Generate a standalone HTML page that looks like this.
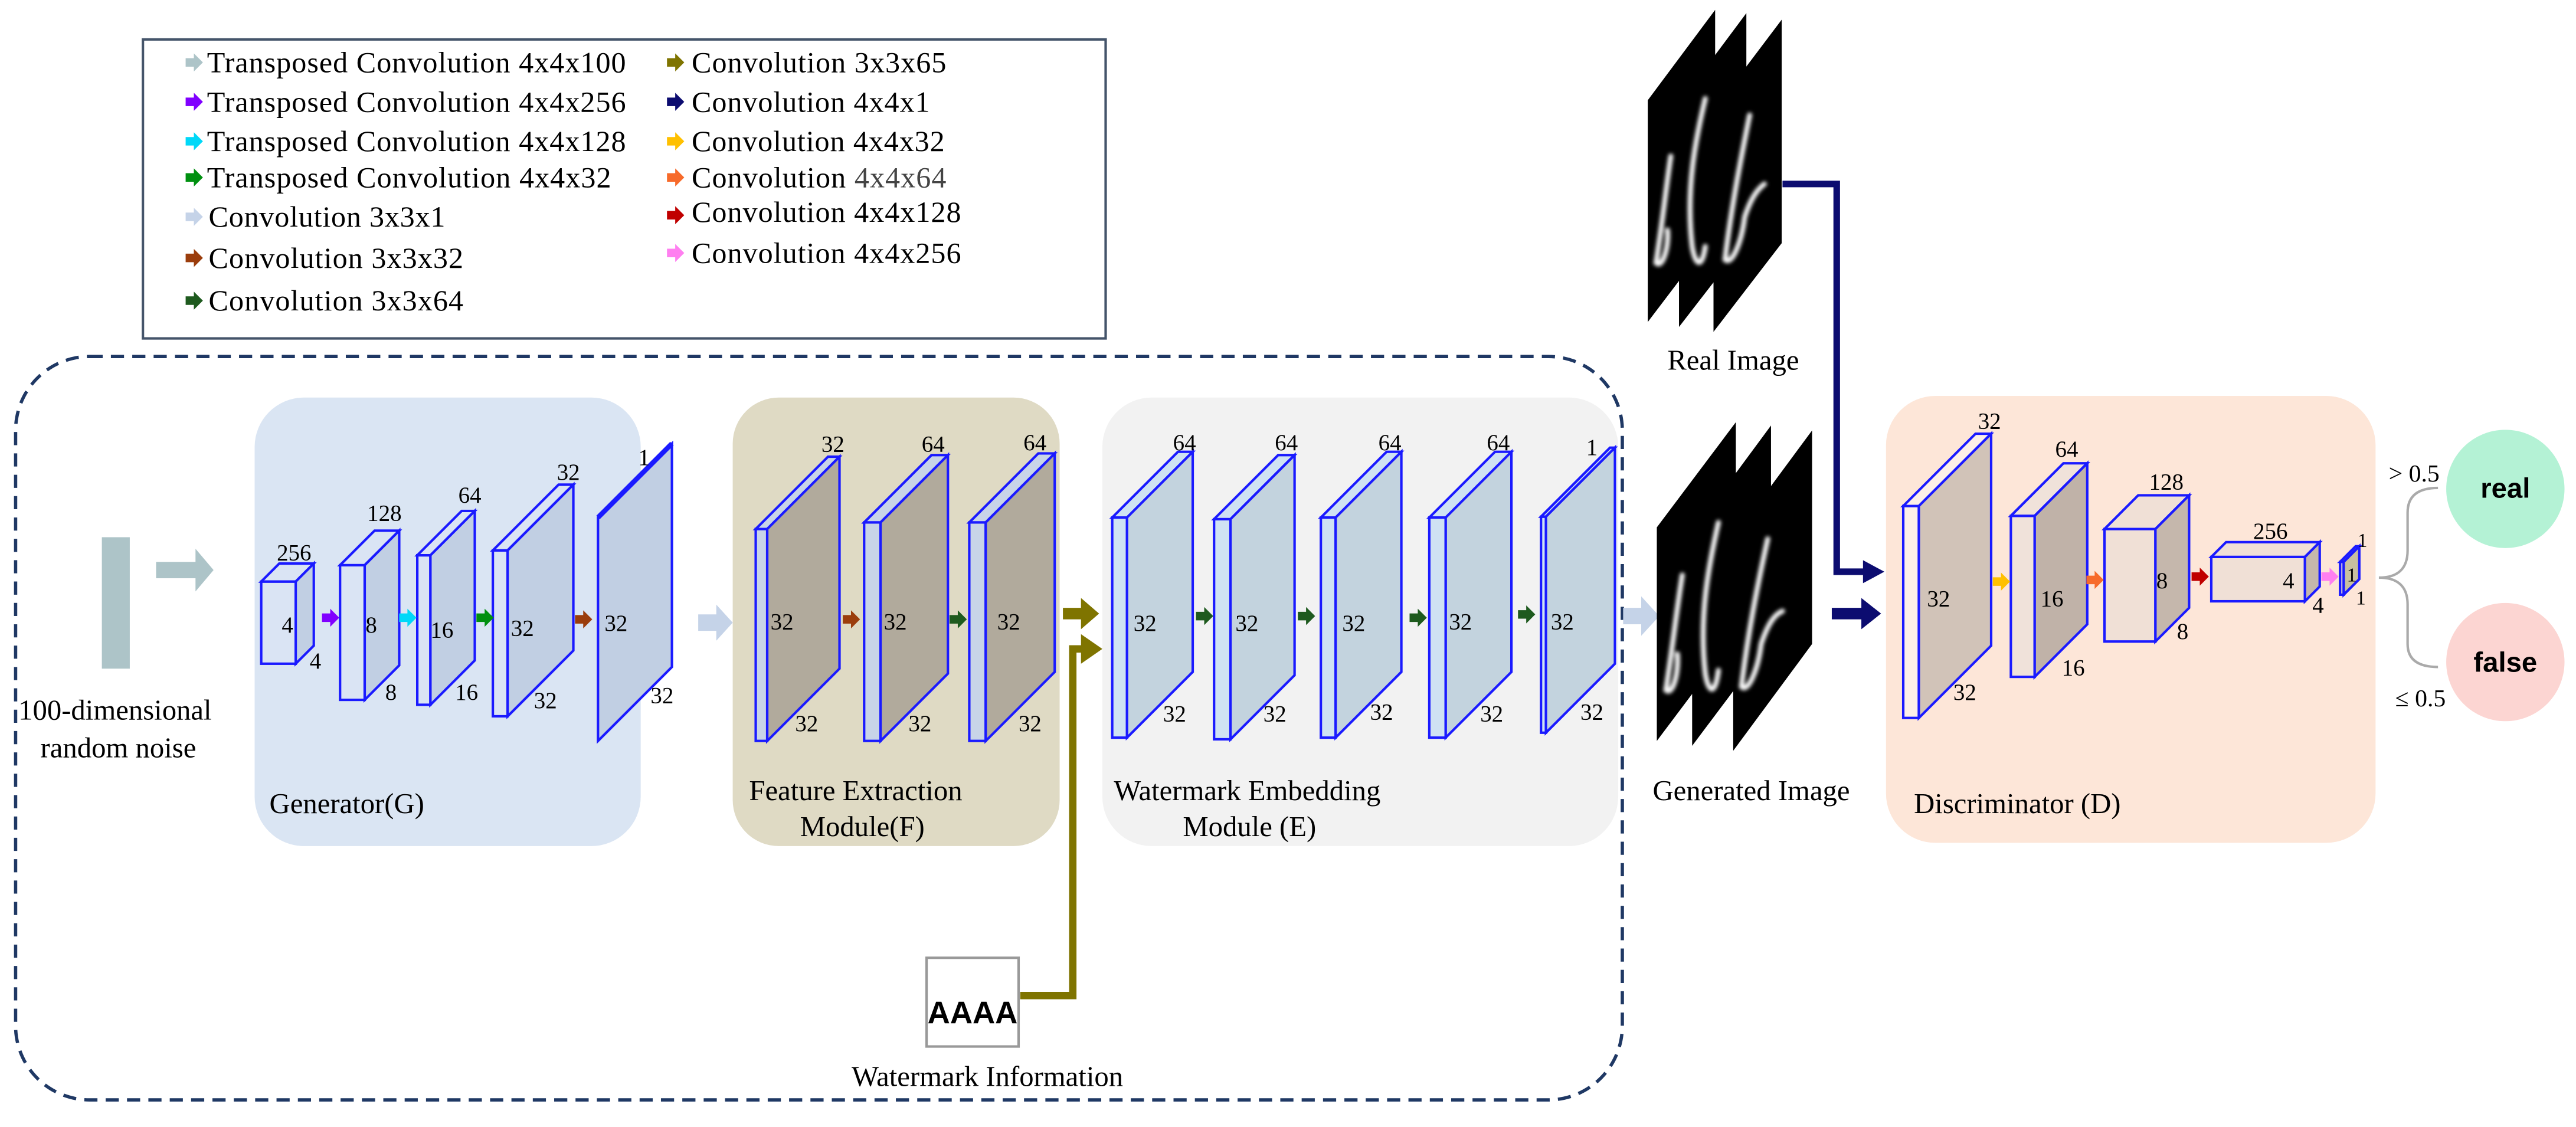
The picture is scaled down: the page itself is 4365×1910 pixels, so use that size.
<!DOCTYPE html>
<html><head><meta charset="utf-8"><style>
html,body{margin:0;padding:0;background:#fff;}
svg{display:block;}
.n{font-size:14px;}
.lab{font-size:17.5px;}
.lg{font-size:18px;}
</style></head><body>
<svg width="4365" height="1910" viewBox="0 0 1568 686" preserveAspectRatio="none" xmlns="http://www.w3.org/2000/svg" font-family="'Liberation Serif', 'DejaVu Serif', serif">
<defs>
<path id="ar" d="M0,-2.6 H5 V-5.5 L10.5,0 L5,5.5 V2.6 H0 Z"/>
<filter id="bl"><feGaussianBlur stdDeviation="1.1"/></filter>
</defs>
<rect width="1568" height="686" fill="#fff"/>

<!-- Legend -->
<rect x="87" y="24" width="586" height="182" fill="#fff" stroke="#44546a" stroke-width="1.5"/>
<g font-family="'Liberation Serif', serif">
<use href="#ar" x="113" y="38" fill="#adc4c8"/><text class="lg" x="126" y="44" textLength="255" font-family="Liberation Serif, serif">Transposed Convolution 4x4x100</text>
<use href="#ar" x="113" y="62" fill="#8000ff"/><text class="lg" x="126" y="68" textLength="255" font-family="Liberation Serif, serif">Transposed Convolution 4x4x256</text>
<use href="#ar" x="113" y="86" fill="#00d8f8"/><text class="lg" x="126" y="92" textLength="255" font-family="Liberation Serif, serif">Transposed Convolution 4x4x128</text>
<use href="#ar" x="113" y="108" fill="#009010"/><text class="lg" x="126" y="114" textLength="246" font-family="Liberation Serif, serif">Transposed Convolution 4x4x32</text>
<use href="#ar" x="113" y="132" fill="#c5d3e8"/><text class="lg" x="127" y="138" textLength="144" font-family="Liberation Serif, serif">Convolution 3x3x1</text>
<use href="#ar" x="113" y="157" fill="#9b3d0c"/><text class="lg" x="127" y="163" textLength="155" font-family="Liberation Serif, serif">Convolution 3x3x32</text>
<use href="#ar" x="113" y="183" fill="#1e5a1e"/><text class="lg" x="127" y="189" textLength="155" font-family="Liberation Serif, serif">Convolution 3x3x64</text>
<use href="#ar" x="406" y="38" fill="#7f7400"/><text class="lg" x="421" y="44" textLength="155" font-family="Liberation Serif, serif">Convolution 3x3x65</text>
<use href="#ar" x="406" y="62" fill="#0c0c70"/><text class="lg" x="421" y="68" textLength="145" font-family="Liberation Serif, serif">Convolution 4x4x1</text>
<use href="#ar" x="406" y="86" fill="#ffc000"/><text class="lg" x="421" y="92" textLength="154" font-family="Liberation Serif, serif">Convolution 4x4x32</text>
<use href="#ar" x="406" y="108" fill="#f76a2a"/><text class="lg" x="421" y="114" textLength="155" font-family="Liberation Serif, serif">Convolution <tspan fill="#444">4x4x64</tspan></text>
<use href="#ar" x="406" y="131" fill="#c00000"/><text class="lg" x="421" y="135" textLength="164" font-family="Liberation Serif, serif">Convolution 4x4x128</text>
<use href="#ar" x="406" y="154" fill="#ff7ff0"/><text class="lg" x="421" y="160" textLength="164" font-family="Liberation Serif, serif">Convolution 4x4x256</text>
</g>

<!-- Dashed outer box -->
<rect x="9.5" y="217" width="978" height="452.5" rx="45" fill="none" stroke="#1f3864" stroke-width="2" stroke-dasharray="8 5"/>

<!-- Module boxes -->
<rect x="155" y="242" width="235" height="273" rx="30" fill="#dae5f3"/>
<rect x="446" y="242" width="199" height="273" rx="28" fill="#dfdac4"/>
<rect x="671" y="242" width="314" height="273" rx="30" fill="#f2f2f2"/>
<rect x="1148" y="241" width="298" height="272" rx="30" fill="#fde6d8"/>

<!-- Noise -->
<rect x="62" y="327" width="17" height="80" fill="#adc4c8"/>
<path d="M95,342 H119 V334 L130,347 L119,360 V352 H95 Z" fill="#adc4c8"/>

<!-- cuboids -->
<g stroke="#1a1aff" stroke-width="1.5" stroke-linejoin="miter">
<g fill="#dae4f4"><rect x="159" y="354" width="21" height="50"/><path d="M159,354 L170,343 L191,343 L180,354 Z"/></g><path d="M180,354 L191,343 L191,393 L180,404 Z" fill="#c1cfe3"/>
<g fill="#dae4f4"><rect x="207" y="344" width="15" height="82"/><path d="M207,344 L228,323 L243,323 L222,344 Z"/></g><path d="M222,344 L243,323 L243,405 L222,426 Z" fill="#c1cfe3"/>
<g fill="#dae4f4"><rect x="254" y="338" width="8" height="91"/><path d="M254,338 L281,311 L289,311 L262,338 Z"/></g><path d="M262,338 L289,311 L289,402 L262,429 Z" fill="#c1cfe3"/>
<g fill="#dae4f4"><rect x="300" y="335" width="9" height="101"/><path d="M300,335 L340,295 L349,295 L309,335 Z"/></g><path d="M309,335 L349,295 L349,396 L309,436 Z" fill="#c1cfe3"/>
<path d="M364,315 L409,270 L409,406 L364,451 Z" fill="#c1cfe3"/><path d="M364,315 L409,270" stroke-width="3"/>
<g fill="#c8d4e8"><rect x="460" y="322" width="7" height="129"/><path d="M460,322 L504,278 L511,278 L467,322 Z"/></g><path d="M467,322 L511,278 L511,407 L467,451 Z" fill="#b1aa9c"/>
<g fill="#c8d4e8"><rect x="526" y="318" width="10" height="133"/><path d="M526,318 L567,277 L577,277 L536,318 Z"/></g><path d="M536,318 L577,277 L577,410 L536,451 Z" fill="#b1aa9c"/>
<g fill="#c8d4e8"><rect x="590" y="318" width="10" height="133"/><path d="M590,318 L632,276 L642,276 L600,318 Z"/></g><path d="M600,318 L642,276 L642,409 L600,451 Z" fill="#b1aa9c"/>
<g fill="#cfe2f3"><rect x="677" y="315" width="9" height="134"/><path d="M677,315 L717,275 L726,275 L686,315 Z"/></g><path d="M686,315 L726,275 L726,409 L686,449 Z" fill="#c3d3de"/>
<g fill="#cfe2f3"><rect x="739" y="316" width="10" height="134"/><path d="M739,316 L778,277 L788,277 L749,316 Z"/></g><path d="M749,316 L788,277 L788,411 L749,450 Z" fill="#c3d3de"/>
<g fill="#cfe2f3"><rect x="804" y="315" width="9" height="134"/><path d="M804,315 L844,275 L853,275 L813,315 Z"/></g><path d="M813,315 L853,275 L853,409 L813,449 Z" fill="#c3d3de"/>
<g fill="#cfe2f3"><rect x="870" y="315" width="10" height="134"/><path d="M870,315 L910,275 L920,275 L880,315 Z"/></g><path d="M880,315 L920,275 L920,409 L880,449 Z" fill="#c3d3de"/>
<g fill="#cfe2f3"><rect x="938" y="314.5" width="3" height="131.5"/><path d="M938,314.5 L980,272.5 L983,272.5 L941,314.5 Z"/></g><path d="M941,314.5 L983,272.5 L983,404 L941,446 Z" fill="#c3d3de"/>
<g fill="#fdf0e8"><rect x="1158.5" y="308" width="9.5" height="129"/><path d="M1158.5,308 L1202.5,264 L1212,264 L1168,308 Z"/></g><path d="M1168,308 L1212,264 L1212,393 L1168,437 Z" fill="#d1c3b8"/>
<g fill="#f0e2da"><rect x="1224" y="314" width="14.5" height="98"/><path d="M1224,314 L1256,282 L1270.5,282 L1238.5,314 Z"/></g><path d="M1238.5,314 L1270.5,282 L1270.5,380 L1238.5,412 Z" fill="#c0b2a8"/>
<g fill="#f0e0d6"><rect x="1281" y="322" width="31" height="68.5"/><path d="M1281,322 L1301.5,301.5 L1332.5,301.5 L1312,322 Z"/></g><path d="M1312,322 L1332.5,301.5 L1332.5,370 L1312,390.5 Z" fill="#c5b7ac"/>
<g fill="#f0e0d6"><rect x="1346" y="339" width="57" height="27"/><path d="M1346,339 L1355,330 L1412,330 L1403,339 Z"/></g><path d="M1403,339 L1412,330 L1412,357 L1403,366 Z" fill="#c5b7ac"/>
<g fill="#f0e0d6"><rect x="1424.4" y="342" width="2.2" height="20"/><path d="M1424.4,342 L1433.9,332.5 L1436.1,332.5 L1426.6,342 Z"/></g><path d="M1426.6,342 L1436.1,332.5 L1436.1,352.5 L1426.6,362 Z" fill="#c8c0a0"/>
</g>

<!-- small arrows -->
<use href="#ar" x="196" y="376" fill="#8000ff"/>
<use href="#ar" x="243" y="376" fill="#00d8f8"/>
<use href="#ar" x="290" y="376" fill="#009010"/>
<use href="#ar" x="350" y="377" fill="#9b3d0c"/>
<use href="#ar" x="513" y="377" fill="#9b3d0c"/>
<use href="#ar" x="578" y="377" fill="#1e5a1e"/>
<use href="#ar" x="728" y="375" fill="#1e5a1e"/>
<use href="#ar" x="790" y="375" fill="#1e5a1e"/>
<use href="#ar" x="858" y="376" fill="#1e5a1e"/>
<use href="#ar" x="924" y="374" fill="#1e5a1e"/>
<use href="#ar" x="1213" y="354" fill="#ffc000"/>
<use href="#ar" x="1270" y="353" fill="#f76a2a"/>
<use href="#ar" x="1334" y="351" fill="#c00000"/>
<use href="#ar" x="1413" y="351" fill="#ff7ff0"/>

<path d="M425,374 H436 V368 L446,379 L436,390 V384 H425 Z" fill="#c5d3e8"/>
<path d="M988,370 H999 V363 L1010,375 L999,387 V380 H988 Z" fill="#c5d3e8"/>

<!-- all serif text -->
<g font-family="Liberation Serif, serif">
<g class="n">
<text font-family="Liberation Serif, serif" x="179" y="341" text-anchor="middle">256</text><text font-family="Liberation Serif, serif" x="175" y="385" text-anchor="middle">4</text><text font-family="Liberation Serif, serif" x="192" y="407" text-anchor="middle">4</text>
<text font-family="Liberation Serif, serif" x="234" y="317" text-anchor="middle">128</text><text font-family="Liberation Serif, serif" x="226" y="385" text-anchor="middle">8</text><text font-family="Liberation Serif, serif" x="238" y="426" text-anchor="middle">8</text>
<text font-family="Liberation Serif, serif" x="286" y="306" text-anchor="middle">64</text><text font-family="Liberation Serif, serif" x="269" y="388" text-anchor="middle">16</text><text font-family="Liberation Serif, serif" x="284" y="426" text-anchor="middle">16</text>
<text font-family="Liberation Serif, serif" x="346" y="292" text-anchor="middle">32</text><text font-family="Liberation Serif, serif" x="318" y="387" text-anchor="middle">32</text><text font-family="Liberation Serif, serif" x="332" y="431" text-anchor="middle">32</text>
<text font-family="Liberation Serif, serif" x="392" y="283" text-anchor="middle">1</text><text font-family="Liberation Serif, serif" x="375" y="384" text-anchor="middle">32</text><text font-family="Liberation Serif, serif" x="403" y="428" text-anchor="middle">32</text>
<text font-family="Liberation Serif, serif" x="507" y="275" text-anchor="middle">32</text><text font-family="Liberation Serif, serif" x="476" y="383" text-anchor="middle">32</text><text font-family="Liberation Serif, serif" x="491" y="445" text-anchor="middle">32</text>
<text font-family="Liberation Serif, serif" x="568" y="275" text-anchor="middle">64</text><text font-family="Liberation Serif, serif" x="545" y="383" text-anchor="middle">32</text><text font-family="Liberation Serif, serif" x="560" y="445" text-anchor="middle">32</text>
<text font-family="Liberation Serif, serif" x="630" y="274" text-anchor="middle">64</text><text font-family="Liberation Serif, serif" x="614" y="383" text-anchor="middle">32</text><text font-family="Liberation Serif, serif" x="627" y="445" text-anchor="middle">32</text>
<text font-family="Liberation Serif, serif" x="721" y="274" text-anchor="middle">64</text><text font-family="Liberation Serif, serif" x="697" y="384" text-anchor="middle">32</text><text font-family="Liberation Serif, serif" x="715" y="439" text-anchor="middle">32</text>
<text font-family="Liberation Serif, serif" x="783" y="274" text-anchor="middle">64</text><text font-family="Liberation Serif, serif" x="759" y="384" text-anchor="middle">32</text><text font-family="Liberation Serif, serif" x="776" y="439" text-anchor="middle">32</text>
<text font-family="Liberation Serif, serif" x="846" y="274" text-anchor="middle">64</text><text font-family="Liberation Serif, serif" x="824" y="384" text-anchor="middle">32</text><text font-family="Liberation Serif, serif" x="841" y="438" text-anchor="middle">32</text>
<text font-family="Liberation Serif, serif" x="912" y="274" text-anchor="middle">64</text><text font-family="Liberation Serif, serif" x="889" y="383" text-anchor="middle">32</text><text font-family="Liberation Serif, serif" x="908" y="439" text-anchor="middle">32</text>
<text font-family="Liberation Serif, serif" x="969" y="277" text-anchor="middle">1</text><text font-family="Liberation Serif, serif" x="951" y="383" text-anchor="middle">32</text><text font-family="Liberation Serif, serif" x="969" y="438" text-anchor="middle">32</text>
<text font-family="Liberation Serif, serif" x="1211" y="261" text-anchor="middle">32</text><text font-family="Liberation Serif, serif" x="1180" y="369" text-anchor="middle">32</text><text font-family="Liberation Serif, serif" x="1196" y="426" text-anchor="middle">32</text>
<text font-family="Liberation Serif, serif" x="1258" y="278" text-anchor="middle">64</text><text font-family="Liberation Serif, serif" x="1249" y="369" text-anchor="middle">16</text><text font-family="Liberation Serif, serif" x="1262" y="411" text-anchor="middle">16</text>
<text font-family="Liberation Serif, serif" x="1318.6" y="298" text-anchor="middle">128</text><text font-family="Liberation Serif, serif" x="1316" y="358" text-anchor="middle">8</text><text font-family="Liberation Serif, serif" x="1328.6" y="389" text-anchor="middle">8</text>
<text font-family="Liberation Serif, serif" x="1382" y="328" text-anchor="middle">256</text><text font-family="Liberation Serif, serif" x="1393" y="358" text-anchor="middle">4</text><text font-family="Liberation Serif, serif" x="1411" y="373" text-anchor="middle">4</text>
<text font-family="Liberation Serif, serif" x="1438" y="333" text-anchor="middle" font-size="12">1</text><text font-family="Liberation Serif, serif" x="1431.5" y="354" text-anchor="middle" font-size="12">1</text><text font-family="Liberation Serif, serif" x="1437" y="368" text-anchor="middle" font-size="12">1</text>
</g>
<text font-family="Liberation Serif, serif" class="lab" x="70" y="438" text-anchor="middle" font-size="18.5">100-dimensional</text>
<text font-family="Liberation Serif, serif" class="lab" x="72" y="461" text-anchor="middle" font-size="18.5">random noise</text>
<text font-family="Liberation Serif, serif" class="lab" x="164" y="495">Generator(G)</text>
<text font-family="Liberation Serif, serif" class="lab" x="456" y="487">Feature Extraction</text>
<text font-family="Liberation Serif, serif" class="lab" x="487" y="509">Module(F)</text>
<text font-family="Liberation Serif, serif" class="lab" x="678" y="487">Watermark Embedding</text>
<text font-family="Liberation Serif, serif" class="lab" x="720" y="509">Module (E)</text>
<text font-family="Liberation Serif, serif" class="lab" x="1165" y="495" font-size="18">Discriminator (D)</text>
<text font-family="Liberation Serif, serif" class="lab" x="1066" y="487" text-anchor="middle">Generated Image</text>
<text font-family="Liberation Serif, serif" class="lab" x="1055" y="225" text-anchor="middle">Real Image</text>
<text font-family="Liberation Serif, serif" class="lab" x="601" y="661" text-anchor="middle">Watermark Information</text>
<text font-family="Liberation Serif, serif" x="1454" y="293" font-size="15">&gt; 0.5</text>
<text font-family="Liberation Serif, serif" x="1458" y="430" font-size="15">≤ 0.5</text>
</g>

<!-- olive watermark path -->
<path d="M621,606 H653 V395 H660" fill="none" stroke="#7f7400" stroke-width="4.5"/>
<path d="M658,391 V386 L671,395 L658,404 V399 Z" fill="#7f7400"/>
<path d="M647,370 H658 V364 L669,373.5 L658,383 V377 H647 Z" fill="#7f7400"/>
<rect x="564" y="583" width="56" height="54" fill="#fff" stroke="#999" stroke-width="1.5"/>
<text x="592" y="623" text-anchor="middle" font-family="Liberation Sans, sans-serif" font-weight="bold" font-size="19">AAAA</text>

<!-- Real image stack -->
<g>
<path d="M1003,61 L1044,6 L1044,142 L1003,196 Z" fill="#000"/>
<path d="M1022,63 L1063,8 L1063,146 L1022,199 Z" fill="#000"/>
<path d="M1043,67 L1084.5,12 L1084.5,148 L1043,202 Z" fill="#000"/>
<g fill="none" stroke="#fff" stroke-width="3" filter="url(#bl)" stroke-linecap="round">
<path d="M1017,95 C1014,115 1012,135 1008,160 C1012,164 1016,150 1015,140"/>
<path d="M1038,60 C1032,85 1026,115 1030,150 C1032,162 1036,164 1038,150"/>
<path d="M1065,70 C1060,95 1054,125 1050,158 C1054,162 1060,148 1062,132 C1066,120 1070,115 1074,112"/>
</g>
<path d="M1008.5,321 L1056.6,257 L1056.6,387 L1008.5,451 Z" fill="#000"/>
<path d="M1030,324 L1078,259 L1078,390 L1030,454 Z" fill="#000"/>
<path d="M1055,327 L1103,262 L1103,392 L1055,457 Z" fill="#000"/>
<g fill="none" stroke="#fff" stroke-width="3" filter="url(#bl)" stroke-linecap="round">
<path d="M1024,350 C1020,375 1018,395 1014,420 C1018,424 1022,410 1021,398"/>
<path d="M1046,318 C1040,345 1034,375 1038,410 C1040,422 1044,424 1046,408"/>
<path d="M1076,328 C1070,355 1064,385 1060,418 C1064,422 1070,408 1072,392 C1076,380 1080,374 1085,372"/>
</g>
</g>

<!-- navy arrows -->
<path d="M1085,112 H1118 V348 H1135" fill="none" stroke="#0c0c70" stroke-width="4"/>
<path d="M1134,341 L1147,348 L1134,355 Z" fill="#0c0c70"/>
<path d="M1115,370 H1133 V364 L1145,373.5 L1133,383 V377 H1115 Z" fill="#0c0c70"/>

<!-- brace -->
<path d="M1448,351.6 Q1465.5,351.6 1465.5,335 V312 Q1465.5,297 1484,297 M1448,351.6 Q1465.5,351.6 1465.5,368 V392 Q1465.5,406 1484,406" fill="none" stroke="#aaa" stroke-width="1.5"/>
<circle cx="1525" cy="297.6" r="36" fill="#b4f2d5"/>
<circle cx="1525" cy="403" r="36" fill="#fcd5d2"/>
<text x="1525" y="303" text-anchor="middle" font-family="Liberation Sans, sans-serif" font-weight="bold" font-size="17">real</text>
<text x="1525" y="409" text-anchor="middle" font-family="Liberation Sans, sans-serif" font-weight="bold" font-size="17">false</text>
</svg>
</body></html>
